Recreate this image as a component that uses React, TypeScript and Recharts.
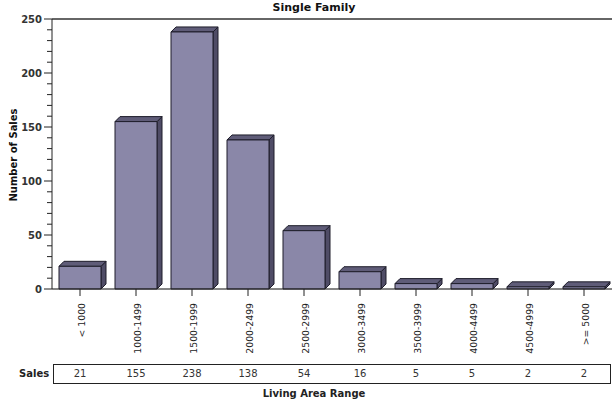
import React from "react";
import {
  BarChart,
  Bar,
  XAxis,
  YAxis,
  CartesianGrid,
  ReferenceLine,
} from "recharts";

const ranges = [
  "< 1000",
  "1000-1499",
  "1500-1999",
  "2000-2499",
  "2500-2999",
  "3000-3499",
  "3500-3999",
  "4000-4499",
  "4500-4999",
  ">= 5000",
];
const sales = [21, 155, 238, 138, 54, 16, 5, 5, 2, 2];
const yTicks = [0, 10, 20, 30, 40, 50, 60, 70, 80, 90, 100, 110, 120, 130, 140, 150, 160, 170, 180, 190, 200, 210, 220, 230, 240, 250];
const gridValues = [50, 100, 150, 200];

const data = ranges.map((range, i) => ({ range, sales: sales[i] }));

const FONT = "Tahoma, 'DejaVu Sans', Verdana, sans-serif";
const DEPTH = 5;

// front face + top + right side, giving the bars a little depth
function Bar3D(props: any) {
  const { x, y, width, height } = props;
  const d = DEPTH;
  const right = x + width;
  const bottom = y + height;
  return (
    <g stroke="#1e1d2a" strokeWidth={1} strokeLinejoin="round">
      <path
        d={`M${right},${bottom} L${right + d},${bottom - d} L${right + d},${y - d} L${right},${y} Z`}
        fill="#4f4c66"
      />
      <path
        d={`M${x},${y} L${x + d},${y - d} L${right + d},${y - d} L${right},${y} Z`}
        fill="#5f5c78"
      />
      <rect x={x} y={y} width={width} height={height} fill="#8a87a8" />
    </g>
  );
}

function YTick(props: any) {
  const { x, y, payload } = props;
  const major = payload.value % 50 === 0;
  return (
    <g>
      <line x1={x - (major ? 8 : 5)} x2={x} y1={y} y2={y} stroke="#222" strokeWidth={1} />
      {major && (
        <text x={x - 10} y={y} dy={3.5} textAnchor="end" fontSize={10} fontWeight="bold" fill="#333" fontFamily={FONT}>
          {payload.value}
        </text>
      )}
    </g>
  );
}

function RangeTick(props: any) {
  const { x, y, payload } = props;
  return (
    <g transform={`translate(${x + 1},${y + 5})`}>
      <text transform="rotate(-90)" textAnchor="end" dy={3.5} fontSize={9.3} fill="#222" fontFamily={FONT}>
        {payload.value}
      </text>
    </g>
  );
}

function SalesTick(props: any) {
  const { x, y, index } = props;
  return (
    <text x={x} y={y + 11} textAnchor="middle" fontSize={10} fill="#333" fontFamily={FONT}>
      {sales[index]}
    </text>
  );
}

export default function App() {
  return (
    <div
      style={{
        position: "absolute",
        left: 0,
        top: 0,
        width: 614,
        height: 414,
        background: "#fff",
        fontFamily: FONT,
      }}
    >
      <div
        style={{
          position: "absolute",
          left: 0,
          width: 628,
          top: 1,
          textAlign: "center",
          fontSize: 11,
          fontWeight: "bold",
          color: "#111",
          lineHeight: "14px",
        }}
      >
        Single Family
      </div>
      <div
        style={{
          position: "absolute",
          left: 13,
          top: 155,
          transform: "translate(-50%, -50%) rotate(-90deg)",
          fontSize: 10,
          fontWeight: "bold",
          color: "#111",
          whiteSpace: "nowrap",
        }}
      >
        Number of Sales
      </div>
      <BarChart
        width={614}
        height={414}
        data={data}
        margin={{ top: 19, right: 2, left: 0, bottom: 30 }}
        barSize={42}
      >
        <CartesianGrid vertical={false} stroke="#d0d0d0" yAxisId="grid" />
        <YAxis yAxisId="grid" hide domain={[0, 250]} ticks={gridValues} />
        <YAxis
          width={52}
          domain={[0, 250]}
          ticks={yTicks}
          interval={0}
          tickSize={0}
          tickMargin={0}
          tickLine={false}
          tick={<YTick />}
          axisLine={{ stroke: "#222" }}
        />
        <XAxis
          dataKey="range"
          height={75}
          interval={0}
          tickSize={7}
          tickLine={{ stroke: "#222" }}
          axisLine={{ stroke: "#222" }}
          tick={<RangeTick />}
        />
        <XAxis
          xAxisId="table"
          dataKey="range"
          height={20}
          interval={0}
          tickSize={0}
          tickLine={false}
          axisLine={false}
          tick={<SalesTick />}
        />
        <ReferenceLine y={250} stroke="#666" strokeWidth={2} />
        <Bar dataKey="sales" shape={<Bar3D />} isAnimationActive={false} />
      </BarChart>
      <div
        style={{
          position: "absolute",
          left: 53,
          top: 364,
          width: 558,
          height: 20,
          border: "1px solid #222",
          boxSizing: "border-box",
          pointerEvents: "none",
        }}
      />
      <div
        style={{
          position: "absolute",
          left: 19,
          top: 368,
          fontSize: 10,
          fontWeight: "bold",
          color: "#222",
        }}
      >
        Sales
      </div>
      <div
        style={{
          position: "absolute",
          left: 0,
          width: 628,
          top: 388,
          textAlign: "center",
          fontSize: 10,
          fontWeight: "bold",
          color: "#222",
        }}
      >
        Living Area Range
      </div>
    </div>
  );
}
